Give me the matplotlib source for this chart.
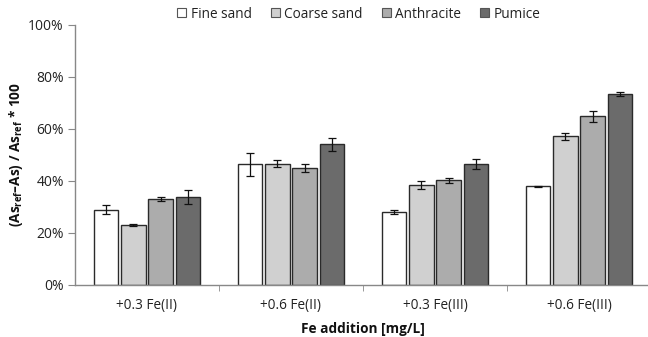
import matplotlib
matplotlib.use("Agg")
import matplotlib.pyplot as plt
import numpy as np
from matplotlib.ticker import PercentFormatter

plt.rcParams['font.family'] = ['Open Sans', 'DejaVu Sans']
plt.rcParams['mathtext.fontset'] = 'custom'
plt.rcParams['mathtext.bf'] = 'Open Sans:bold'
plt.rcParams['mathtext.rm'] = 'Open Sans:bold'
plt.rcParams['mathtext.default'] = 'bf'

groups = ['+0.3 Fe(II)', '+0.6 Fe(II)', '+0.3 Fe(III)', '+0.6 Fe(III)']
series = ['Fine sand', 'Coarse sand', 'Anthracite', 'Pumice']
fine_sand = [28.9, 46.3, 27.9, 37.8]
coarse_sand = [23.0, 46.5, 38.2, 57.1]
anthracite = [32.8, 45.0, 40.1, 64.8]
pumice = [33.7, 54.0, 46.5, 73.5]
fine_sand_err = [1.6, 4.4, 0.8, 0.3]
coarse_sand_err = [0.4, 1.3, 1.5, 1.4]
anthracite_err = [0.8, 1.5, 0.8, 2.2]
pumice_err = [2.7, 2.6, 1.9, 0.8]
colors = ['#ffffff', '#d0d0d0', '#acacac', '#6b6b6b']

values = [fine_sand, coarse_sand, anthracite, pumice]
errors = [fine_sand_err, coarse_sand_err, anthracite_err, pumice_err]

fig = plt.figure(figsize=(6.48, 3.37), dpi=100)
ax = fig.add_axes([75/648, 1-284.5/337, 576/648, 259.5/337])

x = np.arange(len(groups))
step = 0.19
width = 0.172
for i, (vals, errs, c, name) in enumerate(zip(values, errors, colors, series)):
    pos = x + (i - 1.5) * step
    ax.bar(pos, [v/100 for v in vals], width=width, color=c, edgecolor='#2a2a2a',
           linewidth=1.0, label=name, zorder=2)
    ax.errorbar(pos, [v/100 for v in vals], yerr=[e/100 for e in errs], fmt='none',
                ecolor='#111111', elinewidth=0.9, capsize=3, capthick=0.9, zorder=3)

ax.set_xlim(-0.5, 3.5)
ax.set_ylim(0, 1.0)
ax.set_yticks(np.linspace(0, 1, 6))
ax.yaxis.set_major_formatter(PercentFormatter(1.0, decimals=0))
ax.set_xticks(x)
ax.set_xticklabels(groups)
ax.set_xticks([0.5, 1.5, 2.5], minor=True)
ax.tick_params(axis='x', which='major', length=0, pad=10, labelsize=9.8, colors='#222222')
ax.tick_params(axis='x', which='minor', length=4, direction='out', color='#888888')
ax.tick_params(axis='y', length=5, direction='out', color='#888888', labelsize=10,
               labelcolor='#222222', pad=3)
for s in ['top', 'right']:
    ax.spines[s].set_visible(False)
for s in ['left', 'bottom']:
    ax.spines[s].set_color('#888888')
    ax.spines[s].set_linewidth(1.0)

ax.set_ylabel(r'(As$_{ref}$–As) / As$_{ref}$ * 100', fontsize=9.8, fontweight='bold',
              color='#111111', va='center')
ax.yaxis.set_label_coords(-0.103, 0.5)
ax.set_xlabel('Fe addition [mg/L]', fontsize=9.8, fontweight='bold', color='#111111',
              labelpad=6)

leg = fig.legend(loc='center', bbox_to_anchor=(0.554, 0.958), ncol=4, frameon=False,
                 fontsize=9.8, handlelength=0.65, handleheight=0.65, handletextpad=0.35,
                 columnspacing=1.4, borderaxespad=0)
for h in leg.legend_handles:
    h.set_edgecolor('#555555')
    h.set_linewidth(0.8)
for t in leg.get_texts():
    t.set_color('#222222')

fig.savefig('out.png', dpi=100)
